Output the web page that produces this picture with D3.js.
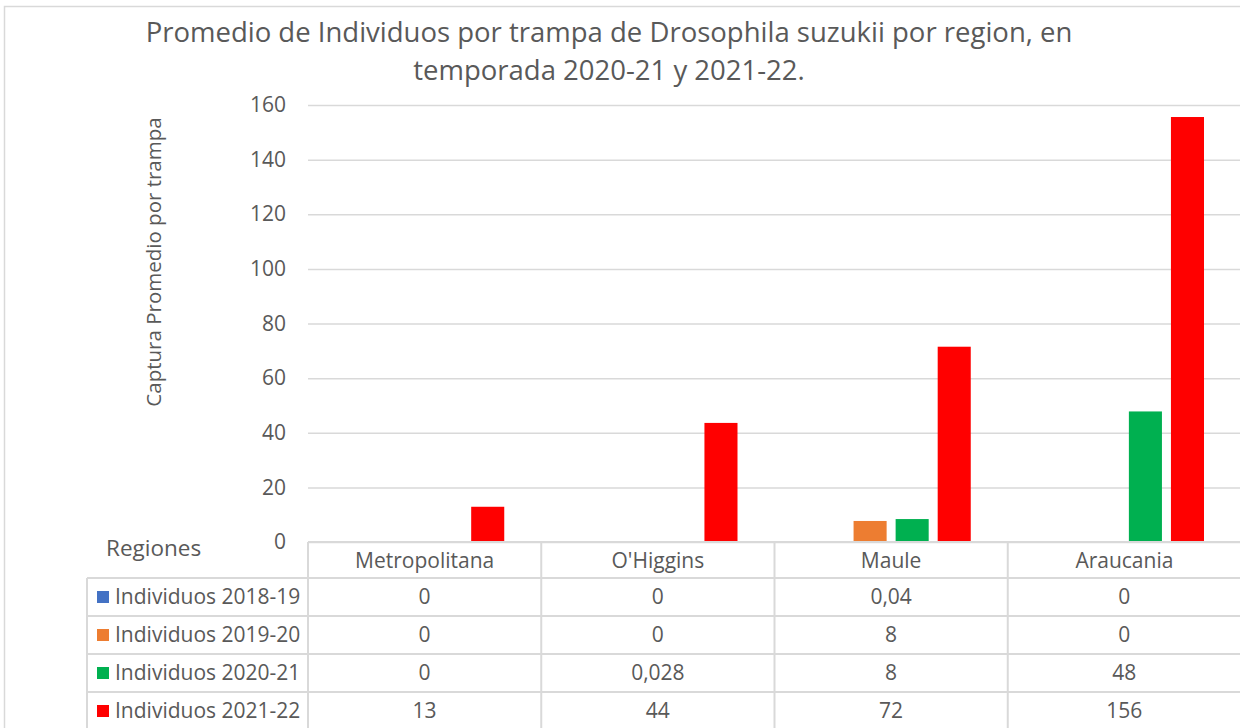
<!DOCTYPE html>
<html>
<head>
<meta charset="utf-8">
<script src="https://cdn.jsdelivr.net/npm/d3@7"></script>
<style>
  body { margin: 0; background: #fff; }
  text { font-family: "Open Sans", sans-serif; fill: #595959; }
</style>
</head>
<body>
<script>
// chart data
var regions = ["Metropolitana", "O'Higgins", "Maule", "Araucania"];
var series = ["Individuos 2018-19", "Individuos 2019-20", "Individuos 2020-21", "Individuos 2021-22"];
var colors = ["#4472c4", "#ed7d31", "#00b050", "#ff0000"];
var v1819 = [0, 0, 0.04, 0];
var v1920 = [0, 0, 7.7, 0];
var v2021 = [0, 0.028, 8.4, 47.8];
var v2122 = [12.9, 43.6, 71.5, 155.6];
// numbers as written in the data table
var t1819 = ["0", "0", "0,04", "0"];
var t1920 = ["0", "0", "8", "0"];
var t2021 = ["0", "0,028", "8", "48"];
var t2122 = ["13", "44", "72", "156"];
var yTicks = [0, 20, 40, 60, 80, 100, 120, 140, 160];

var values = [v1819, v1920, v2021, v2122];
var labels = [t1819, t1920, t2021, t2122];

var w = 1240, h = 728;
var svg = d3.select("body").append("svg").attr("width", w).attr("height", h);

// outer chart frame (partly cut off)
svg.append("rect").attr("x", 4.5).attr("y", 6.5).attr("width", 1260).attr("height", 740)
  .attr("fill", "none").attr("stroke", "#d9d9d9").attr("stroke-width", 1.5);

// scales
var x0 = d3.scaleBand().domain(regions).range([308, 1241]);
var x1 = d3.scaleBand().domain(d3.range(series.length))
  .range([37, x0.bandwidth() - 37]).paddingInner(0.214);
var y = d3.scaleLinear().domain([0, 160]).range([542, 105]);

// title
var title = svg.append("text").attr("text-anchor", "middle").style("font-size", "27.5px");
title.append("tspan").attr("x", 609).attr("y", 42).text("Promedio de Individuos por trampa de Drosophila suzukii por region, en");
title.append("tspan").attr("x", 609).attr("y", 80).text("temporada 2020-21 y 2021-22.");

// y axis with gridlines
var yAxis = svg.append("g").attr("transform", "translate(308,0)")
  .call(d3.axisLeft(y).tickValues(yTicks).tickSize(-(1241 - 308)).tickPadding(22));
yAxis.select(".domain").remove();
yAxis.selectAll(".tick line").attr("stroke", "#d9d9d9").attr("stroke-width", 1.5);
yAxis.selectAll(".tick text").style("font-size", "21px").attr("fill", "#595959");

// y axis title
svg.append("text").attr("transform", "translate(161,262) rotate(-90)")
  .attr("text-anchor", "middle").style("font-size", "20.5px").text("Captura Promedio por trampa");

// bars
var groups = svg.selectAll(".grp").data(regions).enter().append("g")
  .attr("transform", function (d) { return "translate(" + x0(d) + ",0)"; });
groups.selectAll("rect").data(function (d, i) {
    return values.map(function (s, j) { return { s: j, v: s[i] }; });
  }).enter().append("rect")
  .attr("x", function (d) { return x1(d.s); })
  .attr("y", function (d) { return y(d.v); })
  .attr("width", x1.bandwidth())
  .attr("height", function (d) { return y(0) - y(d.v); })
  .attr("fill", function (d) { return colors[d.s]; });

// data table
var rowY = d3.scaleBand().domain(d3.range(series.length)).range([578, 578 + 38 * 4]);
var grid = svg.append("g").attr("stroke", "#d9d9d9").attr("stroke-width", 2);
// header row top line and verticals
grid.append("line").attr("x1", 308).attr("x2", 1241).attr("y1", 542).attr("y2", 542);
regions.forEach(function (r) {
  grid.append("line").attr("x1", x0(r)).attr("x2", x0(r)).attr("y1", 542).attr("y2", h);
});
grid.append("line").attr("x1", 87).attr("x2", 87).attr("y1", 578).attr("y2", h);
series.forEach(function (s, i) {
  grid.append("line").attr("x1", 87).attr("x2", 1241).attr("y1", rowY(i)).attr("y2", rowY(i));
});

svg.append("text").attr("x", 106).attr("y", 556).style("font-size", "22.5px").text("Regiones");

svg.selectAll(".hdr").data(regions).enter().append("text")
  .attr("x", function (d) { return x0(d) + x0.bandwidth() / 2; })
  .attr("y", 568).attr("text-anchor", "middle").style("font-size", "21px")
  .text(function (d) { return d; });

series.forEach(function (s, i) {
  var cy = rowY(i) + rowY.bandwidth() / 2;
  svg.append("rect").attr("x", 97).attr("y", cy - 6).attr("width", 12).attr("height", 12)
    .attr("fill", colors[i]);
  svg.append("text").attr("x", 115).attr("y", cy + 7).style("font-size", "21px").text(s);
  svg.selectAll(".c" + i).data(labels[i]).enter().append("text")
    .attr("x", function (d, k) { return x0(regions[k]) + x0.bandwidth() / 2; })
    .attr("y", cy + 7).attr("text-anchor", "middle").style("font-size", "21px")
    .text(function (d) { return d; });
});
</script>
</body>
</html>
